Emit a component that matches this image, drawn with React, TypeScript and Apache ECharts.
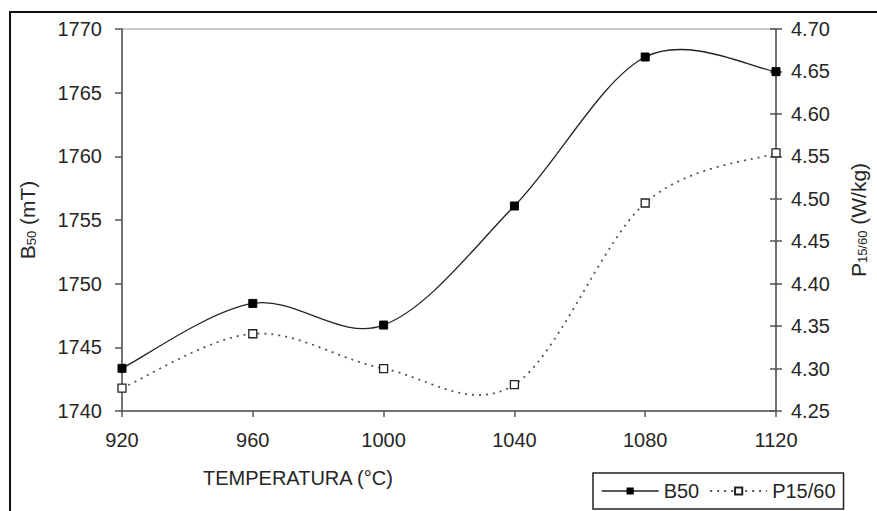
import React, { useEffect, useRef } from "react";
import * as echarts from "echarts";

const temps = [920, 960, 1000, 1040, 1080, 1120];
const b50 = [1743.35, 1748.45, 1746.75, 1756.1, 1767.8, 1766.65];
const p1560 = [4.277, 4.341, 4.3, 4.281, 4.495, 4.554];
const xTitle = "TEMPERATURA (°C)";

const FONT = "Liberation Sans, Arial, sans-serif";
const TXT = "#262626";
const AX = "#555";
const FS = 20;

function smoothPath(pts: number[][]): string {
  const n = pts.length;
  let d = `M${pts[0][0]},${pts[0][1]}`;
  for (let i = 0; i < n - 1; i++) {
    const p0 = pts[Math.max(i - 1, 0)];
    const p1 = pts[i];
    const p2 = pts[i + 1];
    const p3 = pts[Math.min(i + 2, n - 1)];
    const c1x = p1[0] + (p2[0] - p0[0]) / 6;
    const c1y = p1[1] + (p2[1] - p0[1]) / 6;
    const c2x = p2[0] - (p3[0] - p1[0]) / 6;
    const c2y = p2[1] - (p3[1] - p1[1]) / 6;
    d += ` C${c1x},${c1y} ${c2x},${c2y} ${p2[0]},${p2[1]}`;
  }
  return d;
}

function curveSeries(name: string, vals: number[], axis: number, line: any) {
  return {
    name,
    type: "custom",
    yAxisIndex: axis,
    silent: true,
    z: 1,
    data: temps.map((t, i) => [t, vals[i]]),
    encode: { x: 0, y: 1 },
    renderItem: (params: any, api: any) => {
      if (params.dataIndex !== 0) return null;
      const pts = temps.map((t, i) => api.coord([t, vals[i]]));
      return {
        type: "path",
        shape: { pathData: smoothPath(pts) },
        style: { fill: "none", ...line },
      };
    },
  };
}

export default function App() {
  const ref = useRef<HTMLDivElement>(null);
  useEffect(() => {
    if (!ref.current) return;
    const chart = echarts.init(ref.current, undefined, { renderer: "svg" });
    const rich = {
      a: { fontSize: 21, fontFamily: FONT, color: TXT },
      s: { fontSize: 13, fontFamily: FONT, color: TXT, padding: [9, 0, 0, 0] },
    };
    const b50Line = { stroke: "#222", lineWidth: 1.3 };
    const pLine = { stroke: "#555", lineWidth: 1.8, lineDash: [2, 5] };
    chart.setOption({
      animation: false,
      textStyle: { fontFamily: FONT, color: TXT },
      grid: {
        left: 122,
        right: 99,
        top: 29,
        bottom: 100,
        show: true,
        borderColor: "#999",
        borderWidth: 1,
      },
      xAxis: {
        type: "value",
        min: 920,
        max: 1120,
        interval: 40,
        axisLine: { lineStyle: { color: AX, width: 1.5 } },
        axisTick: { show: true, length: 6, lineStyle: { color: AX, width: 1.5 } },
        axisLabel: {
          fontSize: FS,
          color: TXT,
          margin: 19,
          fontFamily: FONT,
          formatter: (v: number) => String(v),
        },
        splitLine: { show: false },
      },
      yAxis: [
        {
          type: "value",
          position: "left",
          min: 1740,
          max: 1770,
          interval: 5,
          axisLine: { show: true, lineStyle: { color: AX, width: 1.5 } },
          axisTick: { show: true, length: 7, lineStyle: { color: AX, width: 1.5 } },
          axisLabel: {
            fontSize: FS,
            color: TXT,
            margin: 20,
            fontFamily: FONT,
            formatter: (v: number) => String(v),
          },
          splitLine: { show: false },
          name: "{a|B}{s|50}{a| (mT)}",
          nameLocation: "middle",
          nameRotate: 90,
          nameGap: 84,
          nameTextStyle: { rich },
        },
        {
          type: "value",
          position: "right",
          min: 4.25,
          max: 4.7,
          interval: 0.05,
          axisLine: { show: true, lineStyle: { color: AX, width: 1.5 } },
          axisTick: { show: true, length: 6, lineStyle: { color: AX, width: 1.5 } },
          axisLabel: {
            fontSize: FS,
            color: TXT,
            margin: 15,
            fontFamily: FONT,
            formatter: (v: number) => v.toFixed(2),
          },
          splitLine: { show: false },
          name: "{a|P}{s|15/60}{a| (W/kg)}",
          nameLocation: "middle",
          nameRotate: 90,
          nameGap: 71,
          nameTextStyle: { rich },
        },
        {
          type: "value",
          position: "right",
          min: 4.25,
          max: 4.7,
          interval: 0.05,
          axisLine: { show: false },
          axisTick: { show: true, inside: true, length: 6, lineStyle: { color: AX, width: 1.5 } },
          axisLabel: { show: false },
          splitLine: { show: false },
        },
      ],
      legend: {
        left: 593,
        top: 473,
        orient: "horizontal",
        padding: [8, 8, 8, 8],
        borderColor: "#222",
        borderWidth: 1.5,
        itemWidth: 57,
        itemHeight: 9,
        itemGap: 10,
        textStyle: { fontSize: FS, color: TXT, fontFamily: FONT },
        data: [
          {
            name: "B50",
            lineStyle: { color: "#222", width: 1.3, type: "solid", opacity: 1 },
          },
          {
            name: "P15/60",
            lineStyle: { color: "#555", width: 1.8, type: [2, 5], opacity: 1 },
          },
        ],
      },
      graphic: [
        {
          type: "rect",
          shape: { x: 10, y: 12, width: 900, height: 600 },
          style: { fill: "none", stroke: "#111", lineWidth: 2 },
          silent: true,
        },
        {
          type: "text",
          x: 203,
          y: 468,
          style: { text: xTitle, fontSize: FS, fill: TXT, fontFamily: FONT },
        },
      ],
      series: [
        curveSeries("B50 curve", b50, 0, b50Line),
        curveSeries("P15/60 curve", p1560, 1, pLine),
        {
          name: "B50",
          type: "line",
          yAxisIndex: 0,
          z: 3,
          data: temps.map((t, i) => [t, b50[i]]),
          symbol: "rect",
          symbolSize: 8,
          itemStyle: { color: "#000", borderColor: "#000" },
          lineStyle: { color: "#222", width: 1.3, opacity: 0 },
        },
        {
          name: "P15/60",
          type: "line",
          yAxisIndex: 1,
          z: 3,
          data: temps.map((t, i) => [t, p1560[i]]),
          symbol: "rect",
          symbolSize: 8,
          itemStyle: { color: "#fff", borderColor: "#222", borderWidth: 1.3 },
          lineStyle: { color: "#555", width: 1.8, type: [2, 5], opacity: 0 },
        },
      ],
    });
    return () => chart.dispose();
  }, []);
  return (
    <div
      ref={ref}
      style={{ position: "fixed", left: 0, top: 0, width: 877, height: 511, background: "#fff" }}
    />
  );
}
